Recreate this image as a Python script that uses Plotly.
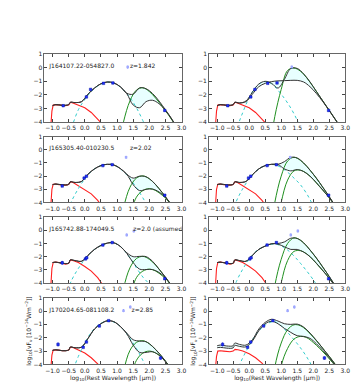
import plotly.graph_objects as go

# shared x grids (log10 rest wavelength, micron)
RED_X = [-1.06, -1.02, -0.98, -0.9, -0.8, -0.7, -0.6, -0.5, -0.47, -0.44, -0.35, -0.2, 0.0, 0.2, 0.4, 0.6]
CYAN_X = [-0.6, -0.4, -0.2, 0.0, 0.2, 0.4, 0.6, 0.8, 1.0, 1.2, 1.4, 1.6, 1.8, 2.0, 2.2]
GREEN_X = [0.6, 0.8, 1.0, 1.2, 1.4, 1.6, 1.8, 2.0, 2.2, 2.4, 2.6, 2.8, 3.0]
TOT_X = [-1.0, -0.9, -0.7, -0.5, -0.45, -0.3, -0.1, 0.1, 0.3, 0.5, 0.7, 0.9, 1.1, 1.3, 1.5, 1.7, 1.9, 2.1, 2.3, 2.5, 2.7, 2.9]

names = ["J164107.22-054827.0", "J165305.40-010230.5", "J165742.88-174049.5", "J170204.65-081108.2"]
redshifts = ["z=1.842", "z=2.02", "z=2.0 (assumed)", "z=2.85"]
z_label_x = [1.40, 1.40, 1.50, 1.45]

# photometry per row
pts1_x = [-0.67, 0.05, 0.18, 0.58, 0.87, 2.48]
pts1_y = [-2.8, -2.15, -1.6, -1.15, -1.12, -3.15]
pts1_e = [0.05, 0.05, 0.05, 0.05, 0.05, 0.06]
pts2_x = [-0.7, -0.02, 0.05, 0.56, 0.85, 2.48]
pts2_y = [-2.75, -2.15, -2.0, -1.2, -1.13, -3.45]
pts2_e = [0.05, 0.05, 0.05, 0.05, 0.05, 0.08]
pts3_x = [-0.7, 0.02, 0.06, 0.56, 0.85, 2.48]
pts3_y = [-2.47, -2.17, -2.08, -1.12, -0.93, -3.68]
pts3_e = [0.15, 0.05, 0.05, 0.05, 0.05, 0.1]
pts4_x = [-0.83, -0.05, 0.05, 0.45, 0.74, 2.35]
pts4_y = [-2.5, -2.72, -2.32, -1.12, -0.72, -3.52]
pts4_e = [0.15, 0.05, 0.05, 0.05, 0.05, 0.12]
lim1_x, lim1_y = [1.33], [0.05]
lim2_x, lim2_y = [1.28], [-0.56]
lim3_x, lim3_y = [1.3, 1.52], [-0.35, -0.05]
lim4_x, lim4_y = [1.2, 1.41], [0.02, 0.3]

# stellar (red)
red_1 = [-4.5, -3.2, -2.75, -2.72, -2.74, -2.78, -2.8, -2.75, -2.65, -2.55, -2.62, -2.75, -2.95, -3.3, -3.75, -4.3]
red_2 = [-4.5, -3.0, -2.62, -2.6, -2.65, -2.67, -2.68, -2.63, -2.5, -2.42, -2.5, -2.72, -3.0, -3.35, -3.85, -4.5]
red_3 = [-4.5, -2.9, -2.45, -2.42, -2.45, -2.5, -2.57, -2.5, -2.35, -2.25, -2.32, -2.45, -2.75, -3.1, -3.6, -4.3]
red_4a = [-4.5, -3.3, -2.92, -2.9, -2.93, -2.97, -2.98, -2.92, -2.8, -2.7, -2.75, -2.9, -3.15, -3.5, -3.95, -4.6]
red_4b = [-4.5, -3.4, -3.0, -2.97, -3.0, -3.05, -3.05, -3.0, -2.92, -2.87, -2.9, -3.0, -3.2, -3.5, -3.9, -4.5]

# AGN (cyan dashed)
cyan_1a = [-5.2, -4.3, -3.1, -2.35, -1.75, -1.35, -1.12, -1.06, -1.25, -1.65, -2.2, -2.95, -3.9, -5.0, -6.2]
cyan_1b = [-6.5, -4.6, -3.3, -2.2, -1.45, -1.07, -1.05, -1.4, -1.95, -2.6, -3.4, -4.4, -5.5, -6.7, -8.0]
cyan_2a = [-5.0, -3.85, -2.95, -2.2, -1.65, -1.3, -1.13, -1.1, -1.27, -1.65, -2.2, -2.87, -3.65, -4.5, -5.4]
cyan_2b = [-5.2, -3.9, -2.95, -2.2, -1.65, -1.3, -1.15, -1.13, -1.35, -1.7, -2.15, -2.65, -3.35, -4.25, -5.2]
cyan_3a = [-5.0, -3.75, -2.9, -2.2, -1.65, -1.3, -1.05, -0.94, -1.05, -1.45, -2.1, -2.85, -3.55, -4.1, -5.0]
cyan_3b = [-5.3, -3.9, -2.95, -2.2, -1.62, -1.3, -1.1, -1.04, -1.18, -1.5, -1.95, -2.5, -3.1, -3.75, -4.5]
cyan_4a = [-6.5, -4.7, -3.4, -2.4, -1.6, -1.1, -0.8, -0.75, -0.95, -1.4, -2.05, -2.8, -3.7, -4.8, -6.0]
cyan_4b = [-6.3, -4.6, -3.5, -2.6, -1.8, -1.25, -0.9, -0.8, -1.12, -1.6, -2.15, -2.75, -3.45, -4.3, -5.2]

# cold dust (green), warm/hi and cool/lo
ghi_1a = [-12, -9, -6.5, -4.0, -2.45, -1.65, -1.48, -1.75, -2.25, -2.85, -3.5, -4.2, -4.9]
ghi_1b = [-6.5, -3.6, -1.6, -0.2, -0.02, -0.25, -0.75, -1.4, -2.1, -2.8, -3.5, -4.2, -4.9]
ghi_2a = [-12, -9.5, -6.8, -4.4, -2.85, -2.15, -1.98, -2.2, -2.65, -3.25, -3.95, -4.7, -5.4]
ghi_2b = [-7, -4.0, -2.0, -0.85, -0.57, -0.8, -1.25, -1.85, -2.5, -3.2, -3.95, -4.7, -5.4]
ghi_3a = [-12, -9.5, -6.8, -4.4, -2.85, -2.15, -1.98, -2.2, -2.65, -3.25, -3.95, -4.7, -5.4]
ghi_3b = [-7.5, -4.2, -2.2, -1.0, -0.57, -0.75, -1.2, -1.8, -2.45, -3.15, -3.9, -4.65, -5.4]
ghi_4a = [-12, -9.5, -6.8, -4.5, -2.95, -2.35, -2.22, -2.45, -2.9, -3.45, -4.1, -4.8, -5.5]
ghi_4b = [-8, -4.2, -2.4, -1.4, -1.03, -1.1, -1.45, -1.95, -2.5, -3.1, -3.7, -4.35, -5.0]
glo_2a = [-17, -14, -11, -8, -5.2, -3.6, -3.1, -2.95, -3.1, -3.45, -3.9, -4.5, -5.2]
glo_2b = [-10, -6.8, -4.0, -2.3, -1.6, -1.55, -1.8, -2.25, -2.8, -3.35, -3.95, -4.65, -5.3]
glo_3a = [-17, -14, -11, -8, -5.2, -3.6, -3.1, -2.95, -3.1, -3.45, -3.9, -4.5, -5.2]
glo_3b = [-10, -6.8, -4.0, -2.3, -1.6, -1.55, -1.8, -2.25, -2.8, -3.35, -3.95, -4.65, -5.3]
glo_4a = [-17, -14, -11, -8, -5.3, -3.7, -3.15, -3.0, -3.15, -3.5, -4.05, -4.7, -5.4]
glo_4b = [-11, -7, -4.1, -2.8, -2.1, -1.9, -2.0, -2.35, -2.8, -3.3, -3.85, -4.45, -5.1]

# total models (black), upper and lower
thi_1a = [-2.8, -2.72, -2.77, -2.72, -2.55, -2.57, -2.5, -1.95, -1.5, -1.18, -1.05, -1.12, -1.4, -1.88, -1.95, -1.48, -1.55, -1.9, -2.45, -3.1, -3.8, -4.6]
tlo_1a = [-2.8, -2.72, -2.77, -2.72, -2.55, -2.57, -2.5, -1.95, -1.5, -1.18, -1.05, -1.12, -1.4, -1.9, -2.75, -2.95, -2.5, -2.4, -2.65, -3.15, -3.8, -4.6]
thi_1b = [-2.8, -2.72, -2.77, -2.72, -2.55, -2.6, -2.45, -1.8, -1.2, -1.0, -1.15, -1.5, -0.85, -0.05, -0.05, -0.45, -1.05, -1.75, -2.45, -3.15, -3.85, -4.55]
tlo_1b = [-2.8, -2.72, -2.77, -2.72, -2.55, -2.6, -2.5, -1.95, -1.4, -1.15, -1.02, -0.97, -0.95, -0.93, -0.93, -1.05, -1.4, -1.9, -2.5, -3.15, -3.85, -4.55]
thi_2a = [-2.65, -2.6, -2.66, -2.63, -2.43, -2.48, -2.4, -1.85, -1.45, -1.2, -1.1, -1.15, -1.42, -1.85, -2.15, -2.0, -2.05, -2.4, -2.95, -3.55, -4.25, -5.0]
tlo_2a = [-2.65, -2.6, -2.66, -2.63, -2.43, -2.48, -2.4, -1.85, -1.45, -1.2, -1.1, -1.15, -1.42, -1.85, -2.65, -3.1, -3.0, -2.98, -3.2, -3.6, -4.25, -5.0]
thi_2b = [-2.65, -2.6, -2.66, -2.63, -2.43, -2.48, -2.4, -1.9, -1.45, -1.2, -1.1, -1.1, -0.9, -0.57, -0.62, -1.0, -1.55, -2.15, -2.85, -3.55, -4.3, -5.0]
tlo_2b = [-2.65, -2.6, -2.66, -2.63, -2.43, -2.48, -2.4, -1.9, -1.45, -1.2, -1.1, -1.12, -1.45, -1.6, -1.5, -1.65, -2.0, -2.5, -3.05, -3.65, -4.3, -5.0]
thi_3a = [-2.45, -2.42, -2.5, -2.5, -2.25, -2.3, -2.35, -1.9, -1.45, -1.15, -0.97, -0.95, -1.22, -1.7, -2.0, -1.98, -2.0, -2.35, -2.95, -3.55, -4.25, -5.0]
tlo_3a = [-2.45, -2.42, -2.5, -2.5, -2.25, -2.3, -2.35, -1.9, -1.45, -1.15, -0.97, -0.95, -1.22, -1.75, -2.45, -2.95, -2.98, -2.98, -3.2, -3.6, -4.25, -5.0]
thi_3b = [-2.45, -2.42, -2.5, -2.5, -2.25, -2.3, -2.35, -1.9, -1.45, -1.2, -1.02, -1.0, -0.88, -0.6, -0.62, -0.95, -1.5, -2.1, -2.8, -3.5, -4.25, -5.0]
tlo_3b = [-2.45, -2.42, -2.5, -2.5, -2.25, -2.3, -2.35, -1.9, -1.45, -1.2, -1.02, -1.05, -1.25, -1.45, -1.45, -1.65, -2.0, -2.5, -3.05, -3.65, -4.3, -5.0]
thi_4a = [-2.95, -2.9, -2.97, -2.92, -2.7, -2.75, -2.7, -2.05, -1.35, -0.95, -0.73, -0.8, -1.15, -1.65, -2.15, -2.25, -2.3, -2.65, -3.15, -3.75, -4.45, -5.1]
tlo_4a = [-2.95, -2.9, -2.97, -2.92, -2.7, -2.75, -2.7, -2.05, -1.35, -0.95, -0.73, -0.8, -1.15, -1.7, -2.55, -3.1, -3.1, -3.05, -3.3, -3.8, -4.45, -5.1]
thi_4b = [-2.6, -2.55, -2.62, -2.6, -2.4, -2.5, -2.55, -2.15, -1.35, -0.85, -0.62, -0.75, -0.95, -1.0, -0.98, -1.2, -1.65, -2.2, -2.8, -3.4, -4.05, -4.7]
tlo_4b = [-2.75, -2.72, -2.78, -2.76, -2.58, -2.65, -2.68, -2.25, -1.48, -0.95, -0.77, -0.95, -1.3, -1.6, -1.85, -1.9, -2.05, -2.45, -2.95, -3.5, -4.1, -4.75]

rows = [
    dict(px=pts1_x, py=pts1_y, pe=pts1_e, lx=lim1_x, ly=lim1_y),
    dict(px=pts2_x, py=pts2_y, pe=pts2_e, lx=lim2_x, ly=lim2_y),
    dict(px=pts3_x, py=pts3_y, pe=pts3_e, lx=lim3_x, ly=lim3_y),
    dict(px=pts4_x, py=pts4_y, pe=pts4_e, lx=lim4_x, ly=lim4_y),
]
panels = [
    [dict(red=red_1, cyan=cyan_1a, ghi=ghi_1a, glo=None, thi=thi_1a, tlo=tlo_1a),
     dict(red=red_1, cyan=cyan_1b, ghi=ghi_1b, glo=None, thi=thi_1b, tlo=tlo_1b)],
    [dict(red=red_2, cyan=cyan_2a, ghi=ghi_2a, glo=glo_2a, thi=thi_2a, tlo=tlo_2a),
     dict(red=red_2, cyan=cyan_2b, ghi=ghi_2b, glo=glo_2b, thi=thi_2b, tlo=tlo_2b)],
    [dict(red=red_3, cyan=cyan_3a, ghi=ghi_3a, glo=glo_3a, thi=thi_3a, tlo=tlo_3a),
     dict(red=red_3, cyan=cyan_3b, ghi=ghi_3b, glo=glo_3b, thi=thi_3b, tlo=tlo_3b)],
    [dict(red=red_4a, cyan=cyan_4a, ghi=ghi_4a, glo=glo_4a, thi=thi_4a, tlo=tlo_4a),
     dict(red=red_4b, cyan=cyan_4b, ghi=ghi_4b, glo=glo_4b, thi=thi_4b, tlo=tlo_4b)],
]

W, H = 359, 383
col_px = [(37, 176), (204, 342)]
row_px = [(43, 112), (127, 194), (209, 276), (291, 359)]

FONT = "DejaVu Sans"
ytitle = "log<sub>10</sub>[νF<sub>ν</sub> [10<sup>−14</sup>Wm<sup>−2</sup>]]"
xtitle = "log<sub>10</sub>(Rest Wavelength [μm])"
tickfont = dict(size=6, family=FONT, color="#222")

fig = go.Figure()
layout = {}
n = 0
for r in range(4):
    for c in range(2):
        n += 1
        xa, ya = f"x{n}", f"y{n}"
        p = panels[r][c]
        d = rows[r]

        # shaded region between the two total models
        fig.add_trace(go.Scatter(x=TOT_X + TOT_X[::-1], y=p["thi"] + p["tlo"][::-1],
                                 fill="toself", fillcolor="#e8ffff", mode="lines",
                                 line=dict(width=0, shape="spline"), xaxis=xa, yaxis=ya))
        fig.add_trace(go.Scatter(x=RED_X, y=p["red"], mode="lines",
                                 line=dict(color="#ff2020", width=1.1), xaxis=xa, yaxis=ya))
        fig.add_trace(go.Scatter(x=CYAN_X, y=p["cyan"], mode="lines",
                                 line=dict(color="#33cccc", width=1, dash="3px,3px", shape="spline"),
                                 xaxis=xa, yaxis=ya))
        for g in (p["ghi"], p["glo"]):
            if g is None:
                continue
            fig.add_trace(go.Scatter(x=GREEN_X, y=g, mode="lines",
                                     line=dict(color="#1f8f1f", width=1, shape="spline"),
                                     xaxis=xa, yaxis=ya))
        for t in (p["thi"], p["tlo"]):
            fig.add_trace(go.Scatter(x=TOT_X, y=t, mode="lines",
                                     line=dict(color="#333333", width=1, shape="spline"),
                                     xaxis=xa, yaxis=ya))
        fig.add_trace(go.Scatter(x=d["lx"], y=d["ly"], mode="markers",
                                 marker=dict(symbol="square", size=2.5, color="#9fa8ff"),
                                 error_y=dict(type="constant", value=0.1, color="#3344ff",
                                              thickness=1, width=0),
                                 xaxis=xa, yaxis=ya))
        fig.add_trace(go.Scatter(x=d["px"], y=d["py"], mode="markers",
                                 marker=dict(symbol="square", size=2.5, color="#2030ff",
                                             line=dict(color="#0010a0", width=0.5)),
                                 error_y=dict(type="data", array=d["pe"], color="#2030ff",
                                              thickness=1, width=0),
                                 xaxis=xa, yaxis=ya))
        if c == 0:
            fig.add_trace(go.Scatter(x=[-1.1, z_label_x[r]], y=[0.07, 0.07],
                                     text=[names[r], redshifts[r]], mode="text",
                                     textposition="middle right", cliponaxis=True,
                                     textfont=dict(size=6, color="#222222", family=FONT),
                                     xaxis=xa, yaxis=ya))

        x0, x1 = col_px[c]
        t0, b0 = row_px[r]
        xkey = "xaxis" if n == 1 else f"xaxis{n}"
        ykey = "yaxis" if n == 1 else f"yaxis{n}"
        layout[xkey] = dict(domain=[x0 / W, x1 / W], anchor=ya, range=[-1.25, 3.0],
                            tickvals=[-1.0, -0.5, 0.0, 0.5, 1.0, 1.5, 2.0, 2.5, 3.0],
                            tickformat=".1f", tickangle=0, ticks="inside", ticklen=3,
                            tickcolor="#444", showline=True, linecolor="#666", linewidth=1,
                            mirror="ticks", showgrid=False, zeroline=False, tickfont=tickfont)
        layout[ykey] = dict(domain=[1 - b0 / H, 1 - t0 / H], anchor=xa, range=[-4, 1],
                            tickvals=[-4, -3, -2, -1, 0, 1], ticks="inside", ticklen=3,
                            tickcolor="#444", showline=True, linecolor="#666", linewidth=1,
                            mirror="ticks", showgrid=False, zeroline=False, tickfont=tickfont)
        if r == 3:
            layout[xkey]["title"] = dict(text=xtitle, font=dict(size=6, family=FONT, color="#222"),
                                         standoff=1)
            layout[ykey]["title"] = dict(text=ytitle, font=dict(size=6, family=FONT, color="#222"),
                                         standoff=1)

fig.update_layout(**layout)
fig.update_layout(width=W, height=H, margin=dict(l=0, r=0, t=0, b=0),
                  paper_bgcolor="white", plot_bgcolor="white", showlegend=False)
fig.write_html("out.html")
